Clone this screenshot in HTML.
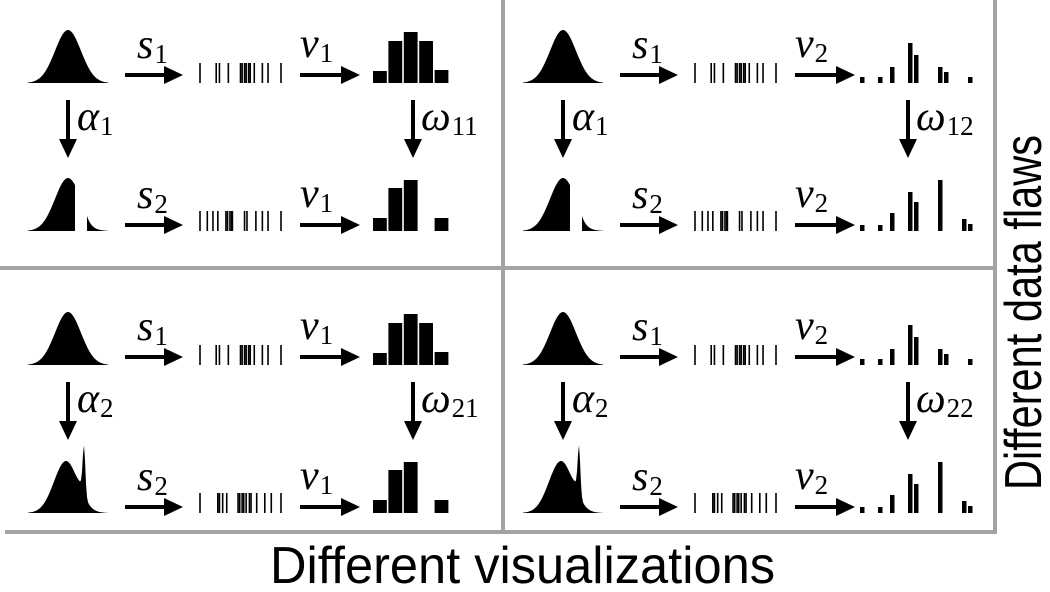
<!DOCTYPE html>
<html><head><meta charset="utf-8"><style>
html,body{margin:0;padding:0;background:#fff;}
svg{display:block;}
.m{font-family:"Liberation Serif",serif;font-style:italic;font-size:42px;fill:#000;}
.sub{font-family:"Liberation Serif",serif;font-style:normal;font-size:27px;fill:#000;}
.title{font-family:"Liberation Sans",sans-serif;font-size:52px;fill:#000;}
</style></head><body>
<svg id="fig" width="1050" height="592" viewBox="0 0 1050 592" xmlns="http://www.w3.org/2000/svg">
<g id="grid">
<line x1="0" y1="268" x2="995" y2="268" stroke="#a3a3a3" stroke-width="4"/>
<line x1="503" y1="0" x2="503" y2="533" stroke="#a3a3a3" stroke-width="4"/>
<line x1="995" y1="0" x2="995" y2="533" stroke="#a3a3a3" stroke-width="4"/>
<line x1="5" y1="532" x2="997" y2="532" stroke="#a3a3a3" stroke-width="4"/>
</g>
<text class="title" x="270" y="583" textLength="505" lengthAdjust="spacingAndGlyphs">Different visualizations</text>
<text class="title" transform="translate(1041,490) rotate(-90)" x="0" y="0" textLength="355" lengthAdjust="spacingAndGlyphs">Different data flaws</text>
</svg>
<script>
// samples (0..1 along the rug)
const rugS1 = [0,0.2,0.24,0.35,0.5,0.52,0.55,0.57,0.6,0.62,0.67,0.77,0.84,1];
const rugS2a = [0,0.09,0.16,0.22,0.32,0.34,0.37,0.39,0.4,0.55,0.58,0.69,0.77,0.84,1];
const rugS2b = [0,0.22,0.24,0.28,0.33,0.47,0.49,0.52,0.54,0.57,0.61,0.63,0.7,0.8,0.88,1];
// v1 histogram heights (5 bins)
const histV1Row1 = [12,42,51,42,13];
const histV1Row2 = [13,43,51,0,13];
// v2 histogram heights (19 bins)
const histV2Row1 = [6,0,0,6,0,16,0,0,40,28,0,0,0,16,11,0,0,0,6];
const histV2Row2 = [6,0,0,6,0,18,0,0,39,29,0,0,0,51,0,0,0,12,7];
const panels = [
 {dx:0,dy:0,vis:1,a:'1',w:'11',rug2:rugS2a,spike:false},
 {dx:495,dy:0,vis:2,a:'1',w:'12',rug2:rugS2a,spike:false},
 {dx:0,dy:282,vis:1,a:'2',w:'21',rug2:rugS2b,spike:true},
 {dx:495,dy:282,vis:2,a:'2',w:'22',rug2:rugS2b,spike:true}
];
const NS='http://www.w3.org/2000/svg';
const svg=document.getElementById('fig');
function mk(tag,attrs,parent){const e=document.createElementNS(NS,tag);for(const k in attrs)e.setAttribute(k,attrs[k]);parent.appendChild(e);return e;}
function hArrow(g,x1,x2,y){
 const a=mk('g',{},g);
 
 
 mk('line',{x1:x1,y1:y,x2:x2-14,y2:y,stroke:'#000','stroke-width':4},a);
 mk('polygon',{points:`${x2},${y} ${x2-19},${y-9} ${x2-19},${y+9}`,fill:'#000'},a);
}
function vArrow(g,x,y1,y2){
 const a=mk('g',{},g);
 
 
 mk('line',{x1:x,y1:y1,x2:x,y2:y2-14,stroke:'#000','stroke-width':4},a);
 mk('polygon',{points:`${x},${y2} ${x-9},${y2-19} ${x+9},${y2-19}`,fill:'#000'},a);
}
function label(g,x,y,main,sub,name){
 const t=mk('text',{x:x,y:y,class:'m'},g);
 
 
 t.textContent=main;
 const s=document.createElementNS(NS,'tspan');
 s.setAttribute('class','sub');s.setAttribute('dy','5');s.setAttribute('dx','1');s.textContent=sub;t.appendChild(s);
}
function gauss(x,c,s){return Math.exp(-0.5*((x-c)/s)**2);}
function curve(g,x0,x1,base,type,name){
 let d=`M${x0},${base}`;
 const c=(x0+x1)/2;
 const cut=c+7;
 for(let x=x0;x<=x1;x+=1){
  let h=53*gauss(x,c,13);
  if(type==='trunc'){ if(x>cut) break; }
  if(type==='spike'){ h=52*gauss(x,c-2,12)+46*gauss(x,c+16,1.3)+6*gauss(x,c+14,3); }
  d+=` L${x},${base-h}`;
 }
 if(type==='trunc'){ d+=` L${cut},${base} Z`;
   const t0=c+19;
   d+=` M${t0},${base} L${t0},${base-15}`;
   for(let x=t0;x<=x1;x++){d+=` L${x},${base-15*Math.exp(-(x-t0)/5)}`;}
   d+=` L${x1},${base} Z`;
 } else d+=` L${x1},${base} Z`;
 const p=mk('path',{d:d,fill:'#000'},g);
 
 
}
function rug(g,x0,x1,base,vals,name){
 const r=mk('g',{},g);
 
 
 vals.forEach(v=>{const x=x0+v*(x1-x0);
  const l=mk('line',{x1:x,y1:base-20,x2:x,y2:base,stroke:'#000','stroke-width':1.6},r);
  
  });
}
function histV1(g,x0,base,vals){
 const r=mk('g',{},g);
 
 
 const bw=15.4;
 vals.forEach((h,i)=>{if(!h)return;
  const b=mk('rect',{x:x0+i*bw,y:base-h,width:bw-1.6,height:h,fill:'#000'},r);
  
  });
}
function histV2(g,x0,base,vals){
 const r=mk('g',{},g);
 
 
 const bw=6;
 vals.forEach((h,i)=>{if(!h)return;
  const b=mk('rect',{x:x0+i*bw,y:base-h,width:4.5,height:h,fill:'#000'},r);
  
  });
}
panels.forEach((p,pi)=>{
 const g=mk('g',{},svg);
 
 
 const dx=p.dx,dy=p.dy,b1=83+dy,b2=231+dy;
 curve(g,28+dx,108+dx,b1,'normal','original-distribution');
 curve(g,28+dx,108+dx,b2,p.spike?'spike':'trunc','flawed-distribution');
 hArrow(g,125+dx,183+dx,75+dy); hArrow(g,125+dx,183+dx,225+dy);
 label(g,137+dx,58+dy,'s','1','sample-label-s1');
 label(g,137+dx,208+dy,'s','2','sample-label-s2');
 rug(g,200+dx,281+dx,b1,rugS1,'sample-rug-1');
 rug(g,200+dx,281+dx,b2,p.rug2,'sample-rug-2');
 hArrow(g,300+dx,360+dx,75+dy); hArrow(g,300+dx,360+dx,225+dy);
 label(g,300+dx,57+dy,'v',String(p.vis),'vis-label');
 label(g,300+dx,207+dy,'v',String(p.vis),'vis-label');
 if(p.vis===1){histV1(g,373,b1,histV1Row1);histV1(g,373,b2,histV1Row2);}
 else{histV2(g,860,b1,histV2Row1);histV2(g,860,b2,histV2Row2);}
 vArrow(g,68+dx,100+dy,158+dy);
 label(g,77+dx,130+dy,'α',p.a,'alpha-label');
 vArrow(g,413+dx,100+dy,158+dy);
 label(g,421+dx,130+dy,'ω',p.w,'omega-label');
});
</script>
</body></html>
